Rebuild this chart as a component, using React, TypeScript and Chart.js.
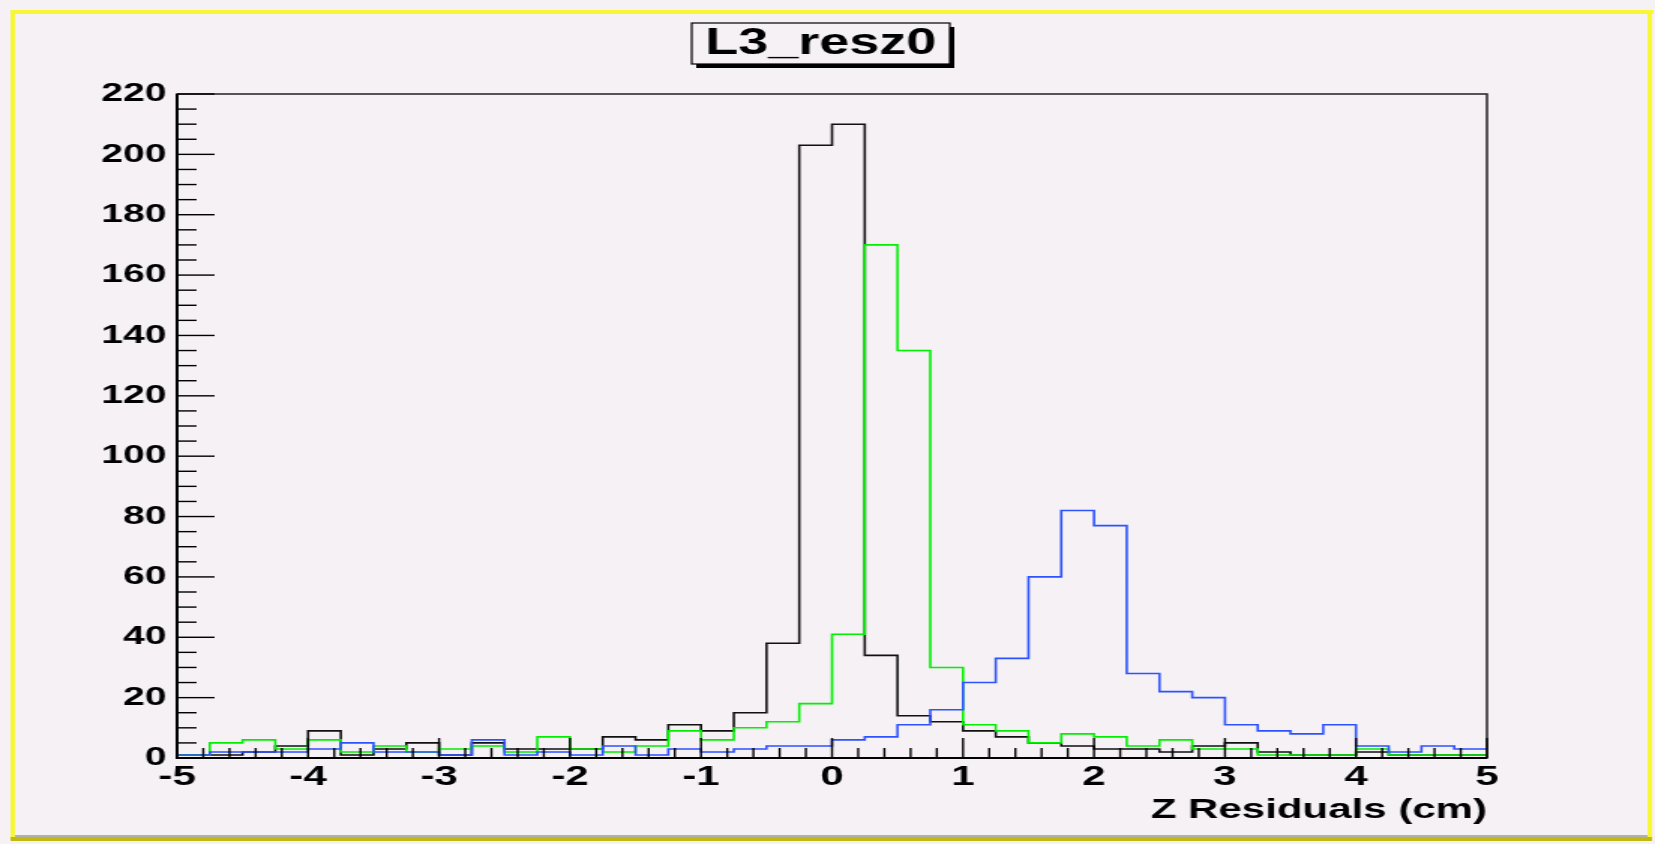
import React, { useEffect, useRef } from 'react';
import { Chart, registerables } from 'chart.js';

Chart.register(...registerables);

// ---- data (ROOT histogram, 40 bins of 0.25 cm from -5 to 5) ----
const BIN_LOW = [
  -5, -4.75, -4.5, -4.25, -4, -3.75, -3.5, -3.25, -3, -2.75,
  -2.5, -2.25, -2, -1.75, -1.5, -1.25, -1, -0.75, -0.5, -0.25,
  0, 0.25, 0.5, 0.75, 1, 1.25, 1.5, 1.75, 2, 2.25,
  2.5, 2.75, 3, 3.25, 3.5, 3.75, 4, 4.25, 4.5, 4.75,
];
const X_MAX = 5;

const BLACK_COUNTS = [
  1, 1, 2, 4, 9, 1, 3, 5, 1, 5,
  3, 3, 3, 7, 6, 11, 9, 15, 38, 203,
  210, 34, 14, 12, 9, 7, 5, 4, 3, 3,
  2, 4, 5, 2, 1, 1, 2, 1, 1, 1,
];
const GREEN_COUNTS = [
  1, 5, 6, 3, 6, 2, 4, 2, 3, 4,
  2, 7, 3, 2, 4, 9, 6, 10, 12, 18,
  41, 170, 135, 30, 11, 9, 5, 8, 7, 4,
  6, 3, 3, 1, 1, 1, 3, 1, 1, 1,
];
const BLUE_COUNTS = [
  1, 2, 2, 2, 3, 5, 2, 2, 1, 6,
  1, 2, 1, 4, 1, 3, 2, 3, 4, 4,
  6, 7, 11, 16, 25, 33, 60, 82, 77, 28,
  22, 20, 11, 9, 8, 11, 4, 2, 4, 3,
];

const X_TICKS = [-5, -4, -3, -2, -1, 0, 1, 2, 3, 4, 5];
const Y_TICKS = [0, 20, 40, 60, 80, 100, 120, 140, 160, 180, 200, 220];
const X_MINOR_STEP = 0.2;
const Y_MINOR_STEP = 5;

const TITLE = 'L3_resz0';
const X_TITLE = 'Z Residuals (cm)';

// ---- style ----
const FONT = '"Liberation Sans", Arial, Helvetica, sans-serif';
const BG = '#f5f1f5';
const CW = 1103; // internal canvas width (stretched horizontally to 1655 like the reference)
const CH = 844;

function histPoints(counts: number[]) {
  const pts = BIN_LOW.map((x, i) => ({ x, y: counts[i] }));
  pts.push({ x: X_MAX, y: counts[counts.length - 1] });
  return pts;
}

const rootStyle = {
  id: 'rootStyle',
  beforeDraw(chart: any) {
    const ctx = chart.ctx;
    ctx.save();
    ctx.fillStyle = BG;
    ctx.fillRect(0, 0, chart.width, chart.height);
    ctx.restore();
  },
  afterDraw(chart: any) {
    const ctx = chart.ctx;
    const a = chart.chartArea;
    const xs = chart.scales.x;
    const ys = chart.scales.y;
    const line = (x1: number, y1: number, x2: number, y2: number) => {
      ctx.beginPath();
      ctx.moveTo(x1, y1);
      ctx.lineTo(x2, y2);
      ctx.stroke();
    };
    ctx.save();
    // frame
    ctx.strokeStyle = '#222';
    ctx.lineWidth = 1.5;
    ctx.strokeRect(a.left, a.top, a.right - a.left, a.bottom - a.top);
    // axes
    ctx.strokeStyle = '#000';
    ctx.lineWidth = 2;
    line(a.left, a.top, a.left, a.bottom + 1);
    line(a.left, a.bottom, a.right, a.bottom);

    // y ticks (inside)
    ctx.lineWidth = 1.4;
    const yMax = Y_TICKS[Y_TICKS.length - 1];
    for (let v = 0; v <= yMax + 1e-9; v += Y_MINOR_STEP) {
      const py = ys.getPixelForValue(v);
      const major = Y_TICKS.includes(v);
      line(a.left, py, a.left + (major ? 25 : 13), py);
    }
    // x ticks (inside)
    const nMinor = Math.round((X_MAX - BIN_LOW[0]) / X_MINOR_STEP);
    for (let i = 0; i <= nMinor; i++) {
      const v = BIN_LOW[0] + i * X_MINOR_STEP;
      const px = xs.getPixelForValue(v);
      const major = Math.abs(v - Math.round(v)) < 1e-6;
      line(px, a.bottom, px, a.bottom - (major ? 20 : 10));
    }

    // title box with shadow
    const bx = 461, by = 23, bw = 172, bh = 41;
    ctx.fillStyle = '#000';
    ctx.fillRect(bx + 3, by + 4, bw, bh);
    ctx.fillStyle = BG;
    ctx.fillRect(bx, by, bw, bh);
    ctx.strokeStyle = '#000';
    ctx.lineWidth = 1.2;
    ctx.strokeRect(bx, by, bw, bh);
    ctx.fillStyle = '#000';
    ctx.font = `bold 36px ${FONT}`;
    ctx.textAlign = 'center';
    ctx.textBaseline = 'alphabetic';
    ctx.fillText(TITLE, bx + bw / 2, 54);

    // canvas border (yellow)
    ctx.fillStyle = '#f7f734';
    ctx.fillRect(7, 10, 1095, 4);
    ctx.fillRect(7, 10, 3, 831);
    ctx.fillRect(1098, 10, 3, 831);
    ctx.fillStyle = '#c2ba10';
    ctx.fillRect(7, 837, 1094, 4);
    ctx.fillStyle = '#b0b0b0';
    ctx.fillRect(10, 835, 1088, 2);
    ctx.restore();
  },
};

export default function App() {
  const ref = useRef<HTMLCanvasElement | null>(null);

  useEffect(() => {
    if (!ref.current) return;
    const chart = new Chart(ref.current, {
      type: 'line',
      data: {
        datasets: [
          {
            label: 'blue',
            data: histPoints(BLUE_COUNTS),
            borderColor: '#2d52ff',
            borderWidth: 1.6,
            stepped: true,
            pointRadius: 0,
            fill: false,
          },
          {
            label: 'green',
            data: histPoints(GREEN_COUNTS),
            borderColor: '#00f000',
            borderWidth: 1.6,
            stepped: true,
            pointRadius: 0,
            fill: false,
          },
          {
            label: 'black',
            data: histPoints(BLACK_COUNTS),
            borderColor: '#111111',
            borderWidth: 1.6,
            stepped: true,
            pointRadius: 0,
            fill: false,
          },
        ],
      },
      options: {
        responsive: false,
        animation: false,
        devicePixelRatio: 1,
        layout: { padding: { left: 38, right: 112, top: 94, bottom: 6 } },
        plugins: {
          legend: { display: false },
          tooltip: { enabled: false },
          title: { display: false },
        },
        scales: {
          x: {
            type: 'linear',
            min: X_TICKS[0],
            max: X_TICKS[X_TICKS.length - 1],
            grid: { display: false, drawTicks: false },
            border: { display: false },
            afterFit: (s: any) => { s.height = 80; },
            afterBuildTicks: (s: any) => { s.ticks = X_TICKS.map((v) => ({ value: v })); },
            ticks: {
              autoSkip: false,
              maxRotation: 0,
              padding: 2,
              color: '#000',
              font: { family: FONT, size: 28, weight: 'bold' },
            },
            title: {
              display: true,
              text: X_TITLE,
              align: 'end',
              color: '#000',
              font: { family: FONT, size: 28, weight: 'bold' },
              padding: { top: 0, bottom: 11 },
            },
          },
          y: {
            type: 'linear',
            min: Y_TICKS[0],
            max: Y_TICKS[Y_TICKS.length - 1],
            grid: { display: false, drawTicks: false },
            border: { display: false },
            afterFit: (s: any) => { s.width = 80; },
            afterBuildTicks: (s: any) => { s.ticks = Y_TICKS.map((v) => ({ value: v })); },
            ticks: {
              padding: 7,
              color: '#000',
              font: { family: FONT, size: 26, weight: 'bold' },
            },
          },
        },
      },
      plugins: [rootStyle],
    } as any);
    return () => chart.destroy();
  }, []);

  return (
    <div style={{ position: 'fixed', left: 0, top: 0, width: 1655, height: 844, overflow: 'hidden', background: BG }}>
      <canvas
        ref={ref}
        width={CW}
        height={CH}
        style={{ width: '1655px', height: '844px', display: 'block' }}
      />
    </div>
  );
}
